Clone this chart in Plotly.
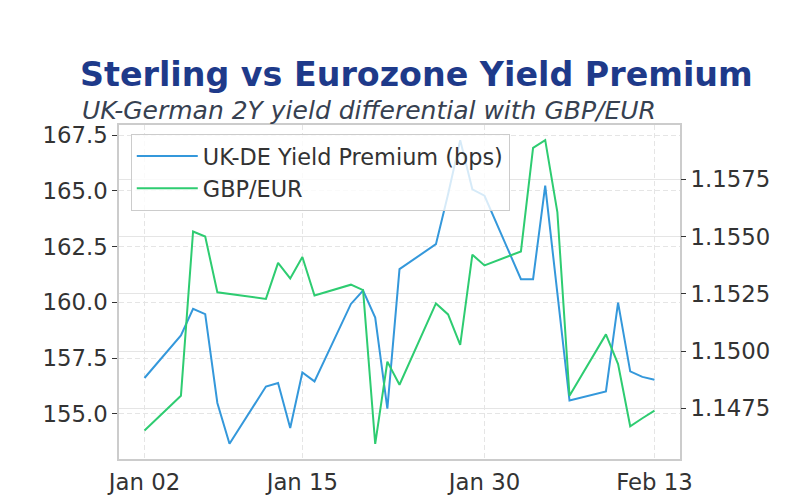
import plotly.graph_objects as go

dates = ["2026-01-02", "2026-01-05", "2026-01-06", "2026-01-07", "2026-01-08", "2026-01-09",
         "2026-01-12", "2026-01-13", "2026-01-14", "2026-01-15", "2026-01-16",
         "2026-01-19", "2026-01-20", "2026-01-21", "2026-01-22", "2026-01-23",
         "2026-01-26", "2026-01-27", "2026-01-28", "2026-01-29", "2026-01-30",
         "2026-02-02", "2026-02-03", "2026-02-04", "2026-02-05", "2026-02-06",
         "2026-02-09", "2026-02-10", "2026-02-11", "2026-02-12", "2026-02-13"]

yield_premium = [156.61, 158.52, 159.71, 159.47, 155.49, 153.66,
                 156.23, 156.39, 154.37, 156.86, 156.46,
                 159.93, 160.53, 159.32, 155.24, 161.49,
                 162.61, 164.85, 167.27, 165.07, 164.78,
                 161.04, 161.04, 165.23, 160.41, 155.60,
                 156.01, 159.99, 156.91, 156.66, 156.53]

gbp_eur = [1.14653, 1.14805, 1.15522, 1.15500, 1.15257, 1.15250,
           1.15228, 1.15385, 1.15317, 1.15411, 1.15243,
           1.15290, 1.15266, 1.14595, 1.14954, 1.14853,
           1.15208, 1.15160, 1.15027, 1.15421, 1.15374,
           1.15435, 1.15887, 1.15921, 1.15607, 1.14805,
           1.15073, 1.14943, 1.14672, 1.14707, 1.14740]

x_tick_vals = ["2026-01-02", "2026-01-15", "2026-01-30", "2026-02-13"]
x_tick_text = ["Jan 02", "Jan 15", "Jan 30", "Feb 13"]
left_ticks = [155.0, 157.5, 160.0, 162.5, 165.0, 167.5]
right_ticks = [1.1475, 1.1500, 1.1525, 1.1550, 1.1575]

FONT = "DejaVu Sans"
GRID = "#e5e5e5"
FRAME = "#cccccc"
TXT = "#333333"
TICK_SIZE = 22.8

fig = go.Figure()
fig.add_trace(go.Scatter(x=dates, y=yield_premium, mode="lines", name="UK-DE Yield Premium (bps)",
                         line=dict(color="#3498db", width=2)))
fig.add_trace(go.Scatter(x=dates, y=gbp_eur, mode="lines", name="GBP/EUR", yaxis="y2",
                         line=dict(color="#2ecc71", width=2)))

fig.update_layout(
    width=800, height=500,
    margin=dict(l=119, r=120, t=125, b=41, autoexpand=False),
    paper_bgcolor="white", plot_bgcolor="white",
    font=dict(family=FONT, size=21, color=TXT),
    showlegend=True,
    legend=dict(x=0.021, y=0.973, xanchor="left", yanchor="top",
                bgcolor="rgba(255,255,255,0.8)", bordercolor="#cccccc", borderwidth=1,
                font=dict(size=22.4, color=TXT), itemwidth=61),
    xaxis=dict(type="date", range=["2025-12-30 21:36", "2026-02-15 02:24"],
               tickvals=x_tick_vals, ticktext=x_tick_text, automargin=False,
               showgrid=True, gridcolor=GRID, griddash="5px,3px", gridwidth=1,
               showline=True, linecolor=FRAME, linewidth=1.5, mirror=True,
               ticks="", ticklabelstandoff=2, zeroline=False,
               tickfont=dict(size=TICK_SIZE, color=TXT)),
    yaxis=dict(range=[152.98, 167.95], tickvals=left_ticks, automargin=False,
               tickformat=".1f",
               showgrid=True, gridcolor=GRID, griddash="5px,3px", gridwidth=1,
               showline=True, linecolor=FRAME, linewidth=1.5, mirror=True,
               ticks="outside", ticklen=5, tickcolor=TXT, tickwidth=1,
               zeroline=False, tickfont=dict(size=TICK_SIZE, color=TXT)),
    yaxis2=dict(range=[1.14529, 1.15987], tickvals=right_ticks, tickformat=".4f",
                overlaying="y", side="right", automargin=False,
                showgrid=True, gridcolor=GRID, gridwidth=1,
                ticks="outside", ticklen=5, tickcolor=TXT, tickwidth=1,
                zeroline=False, showline=False, tickfont=dict(size=TICK_SIZE, color=TXT)),
    title=dict(text="<b>Sterling vs Eurozone Yield Premium</b>", xref="container", x=80/800,
               xanchor="left", yref="container", y=1 - 86/500, yanchor="bottom",
               font=dict(family=FONT, size=33.3, color="#1e3a8a"), pad=dict(b=0)),
)
fig.add_annotation(text="<i>UK-German 2Y yield differential with GBP/EUR</i>",
                   xref="paper", yref="paper", x=(80 - 119) / 561, y=1 + (125 - 127) / 334,
                   xanchor="left", yanchor="bottom", showarrow=False,
                   font=dict(family=FONT, size=25, color="#374151"))

fig.write_html("out.html")
